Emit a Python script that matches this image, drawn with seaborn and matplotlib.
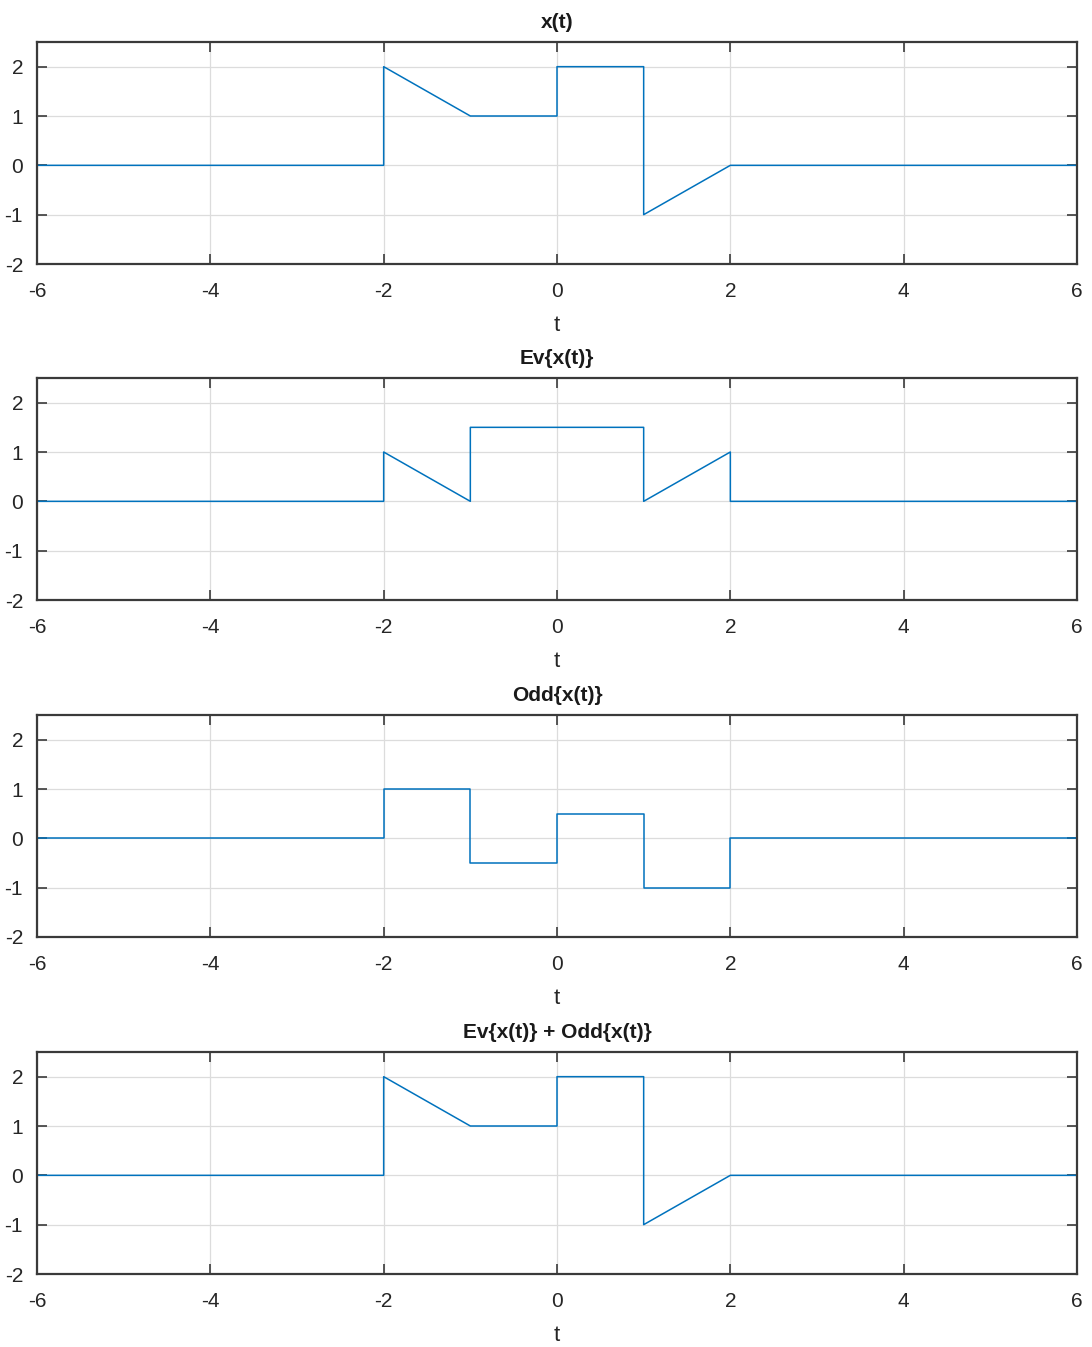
import matplotlib
matplotlib.use("Agg")
import matplotlib.pyplot as plt
import seaborn as sns
import pandas as pd
from matplotlib import font_manager

# Data (breakpoints of piecewise signals)
t_x = [-6, -2, -2, -1, 0, 0, 1, 1, 2, 6]
x_vals = [0, 0, 2, 1, 1, 2, 2, -1, 0, 0]

t_ev = [-6, -2, -2, -1, -1, 1, 1, 2, 2, 6]
ev_vals = [0, 0, 1, 0, 1.5, 1.5, 0, 1, 0, 0]

t_odd = [-6, -2, -2, -1, -1, 0, 0, 1, 1, 2, 2, 6]
odd_vals = [0, 0, 1, 1, -0.5, -0.5, 0.5, 0.5, -1, -1, 0, 0]

t_sum = [-6, -2, -2, -1, 0, 0, 1, 1, 2, 6]
sum_vals = [0, 0, 2, 1, 1, 2, 2, -1, 0, 0]

titles = ["x(t)", "Ev{x(t)}", "Odd{x(t)}", "Ev{x(t)} + Odd{x(t)}"]
x_ticks = [-6, -4, -2, 0, 2, 4, 6]
y_ticks = [-2, -1, 0, 1, 2]

sns.set_theme(style="white")
names = {f.name for f in font_manager.fontManager.ttflist}
fam = "Liberation Sans Narrow" if "Liberation Sans Narrow" in names else "Liberation Sans"
plt.rcParams['font.family'] = [fam, 'DejaVu Sans']

fig = plt.figure(figsize=(10.92, 13.47), dpi=100)
W, H = 1092, 1347
tops = [42, 378, 715, 1052]
ax_h = 222
left, right = 37, 1077

series = [(t_x, x_vals), (t_ev, ev_vals), (t_odd, odd_vals), (t_sum, sum_vals)]
frame = "#3a3a3a"
for i, (tt, vv) in enumerate(series):
    top = tops[i]
    ax = fig.add_axes([left / W, 1 - (top + ax_h) / H, (right - left) / W, ax_h / H])
    df = pd.DataFrame({"t": tt, "v": vv})
    sns.lineplot(data=df, x="t", y="v", sort=False, estimator=None, ax=ax,
                 color="#0072BD", linewidth=1.1)
    ax.set_xlim(-6, 6)
    ax.set_ylim(-2, 2.5)
    ax.set_xticks(x_ticks)
    ax.set_yticks(y_ticks)
    ax.set_xticklabels([str(v) for v in x_ticks])
    ax.set_yticklabels([str(v) for v in y_ticks])
    ax.grid(True, color="#dcdcdc", linewidth=0.9)
    ax.set_axisbelow(True)
    for sp in ax.spines.values():
        sp.set_color(frame)
        sp.set_linewidth(1.6)
        sp.set_visible(True)
    ax.tick_params(direction="in", length=7, width=1.2, color=frame,
                   top=True, right=True, bottom=True, left=True,
                   labelsize=15, labelcolor="#262626")
    ax.tick_params(axis="x", pad=13)
    ax.tick_params(axis="y", pad=10)
    ax.set_xlabel("t", fontsize=16, color="#262626", labelpad=10)
    ax.set_ylabel("")
    ax.set_title(titles[i], fontsize=15, fontweight="bold", color="#1a1a1a", pad=10)

fig.savefig("out.png", dpi=100, facecolor="white")
